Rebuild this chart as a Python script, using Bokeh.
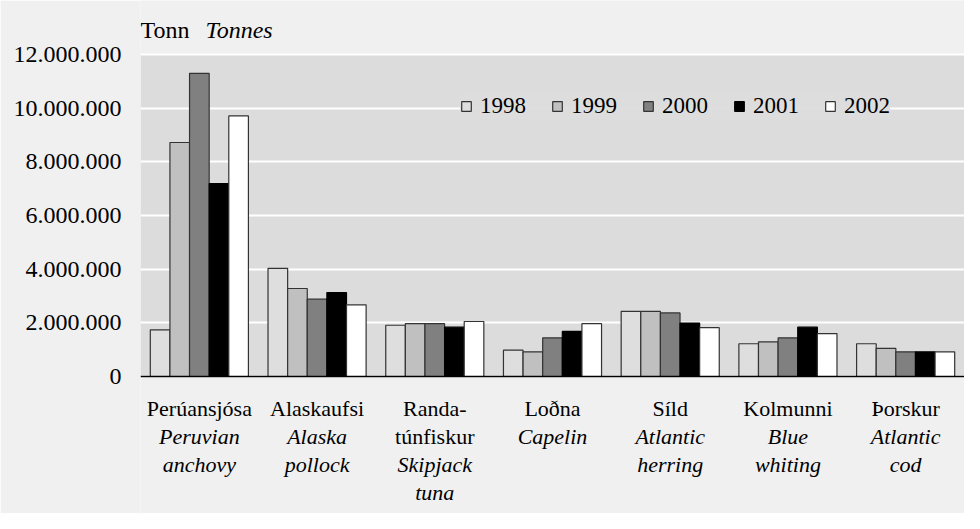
from bokeh.plotting import figure
from bokeh.models import (ColumnDataSource, FactorRange, FixedTicker, Range1d, Legend,
                          LegendItem, BoxAnnotation, Span)
from bokeh.core.properties import value
from bokeh.transform import dodge
from bokeh.embed import file_html
from bokeh.resources import INLINE

# ---- data ----
categories = ["Perúansjósa", "Alaskaufsi", "Randa-\ntúnfiskur", "Loðna", "Síld", "Kolmunni", "Þorskur"]
english = ["Peruvian\nanchovy", "Alaska\npollock", "Skipjack\ntuna", "Capelin",
           "Atlantic\nherring", "Blue\nwhiting", "Atlantic\ncod"]
years = ["1998", "1999", "2000", "2001", "2002"]
v1998 = [1740000, 4030000, 1910000, 980000, 2430000, 1220000, 1220000]
v1999 = [8720000, 3280000, 1970000, 920000, 2430000, 1290000, 1050000]
v2000 = [11300000, 2880000, 1970000, 1440000, 2370000, 1440000, 920000]
v2001 = [7190000, 3130000, 1840000, 1680000, 1990000, 1840000, 920000]
v2002 = [9710000, 2670000, 2050000, 1970000, 1820000, 1600000, 920000]
y_ticks = [0, 2000000, 4000000, 6000000, 8000000, 10000000, 12000000]
y_unit = ("Tonn", "Tonnes")

series = [v1998, v1999, v2000, v2001, v2002]
fills = ["#dedede", "#c0c0c0", "#808080", "#000000", "#ffffff"]
lines = ["#333333", "#333333", "#333333", "#000000", "#333333"]

FONT = "Liberation Serif"

# layout (pixels)
W, H = 964, 513
TOP_PAD = 54      # from figure top to the top of the value axis
BOT_PAD = 137     # from zero line to figure bottom
AXIS_PX = H - TOP_PAD - BOT_PAD
ymin, ymax = y_ticks[0], y_ticks[-1]
PX = (ymax - ymin) / AXIS_PX   # data units per pixel

src = ColumnDataSource(dict(cat=categories, **{y: s for y, s in zip(years, series)}))

p = figure(x_range=FactorRange(*categories, range_padding=0),
           y_range=Range1d(ymin - BOT_PAD * PX, ymax + TOP_PAD * PX),
           width=W, height=H, output_backend="svg", toolbar_location=None,
           x_axis_location=None,
           min_border_left=140, min_border_right=0, min_border_top=0, min_border_bottom=0)
p.background_fill_color = "#f0f0f0"
p.border_fill_color = "#f0f0f0"
p.outline_line_color = None

# plot area background
p.add_layout(BoxAnnotation(bottom=ymin, top=ymax, fill_color="#dcdcdc", fill_alpha=1,
                           line_color=None, level="image"))

bw = 1.0 / 6
items = []
for i, (yr, fc, lc) in enumerate(zip(years, fills, lines)):
    r = p.vbar(x=dodge("cat", (i - 2) * bw, range=p.x_range), top=yr, width=bw, source=src,
               fill_color=fc, line_color=lc, line_width=1.2)
    items.append(LegendItem(label=yr, renderers=[r]))

legend = Legend(items=items, orientation="horizontal", location=(320, BOT_PAD + 257),
                background_fill_color="#dcdcdc", border_line_color=None,
                label_text_font=FONT, label_text_font_size="23px", label_standoff=8,
                label_text_color="black",
                glyph_width=12, glyph_height=12, spacing=25, padding=13, margin=0,
                label_text_baseline="middle")
p.add_layout(legend, "center")

# grid
p.xgrid.grid_line_color = None
p.ygrid.grid_line_color = "white"
p.ygrid.grid_line_width = 2

# zero line
p.add_layout(Span(location=0, dimension="width", line_color="black", line_width=1.5))

# y axis
p.yaxis.ticker = FixedTicker(ticks=y_ticks)
p.yaxis.major_label_overrides = {t: f"{t:,}".replace(",", ".") for t in y_ticks}
p.yaxis.axis_line_color = None
p.yaxis.major_tick_line_color = None
p.yaxis.minor_tick_line_color = None
p.yaxis.major_tick_out = 0
p.yaxis.major_tick_in = 0
p.yaxis.major_label_standoff = 19
p.yaxis.major_label_text_font = FONT
p.yaxis.major_label_text_font_size = "24px"
p.yaxis.major_label_text_color = "black"

# category labels: Icelandic (regular) then English (italic)
FIRST = 32
LINE = 28
reg = dict(x=[], y=[], t=[])
ita = dict(x=[], y=[], t=[])
for c, e in zip(categories, english):
    k = 0
    for ln in c.split("\n"):
        reg["x"].append(c); reg["y"].append(ymin - (FIRST + LINE * k) * PX); reg["t"].append(ln); k += 1
    for ln in e.split("\n"):
        ita["x"].append(c); ita["y"].append(ymin - (FIRST + LINE * k) * PX); ita["t"].append(ln); k += 1

for d, style in ((reg, "normal"), (ita, "italic")):
    p.text(x="x", y="y", text="t", source=ColumnDataSource(d),
           text_font=value(FONT), text_font_size="22px", text_font_style=style,
           text_align="center", text_baseline="alphabetic", text_color="black")

# unit title
for txt, dx, style in ((y_unit[0], 0, "normal"), (y_unit[1], 65, "italic")):
    p.text(x="x", y="y", text="t", x_offset=dx,
           source=ColumnDataSource(dict(x=[0], y=[ymax + 25 * PX], t=[txt])),
           text_font=value(FONT), text_font_size="24px", text_font_style=style,
           text_align="left", text_baseline="alphabetic", text_color="black")

open("out.html", "w").write(file_html(p, INLINE))
